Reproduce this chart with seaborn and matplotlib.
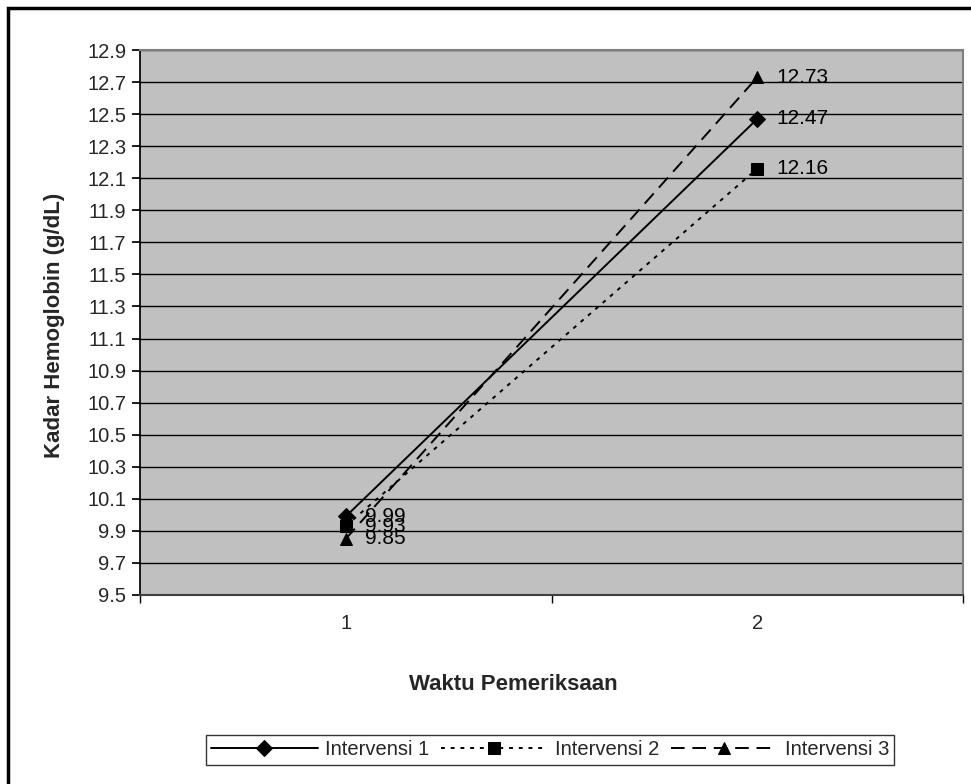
import matplotlib
matplotlib.use("Agg")
import matplotlib.pyplot as plt
import seaborn as sns
import pandas as pd
from matplotlib.patches import Rectangle

sns.set_theme(style="white")
plt.rcParams['font.family'] = ['Liberation Sans', 'DejaVu Sans']

waktu = [1, 2]
series_names = ["Intervensi 1", "Intervensi 2", "Intervensi 3"]
intervensi_1 = [9.99, 12.47]
intervensi_2 = [9.93, 12.16]
intervensi_3 = [9.85, 12.73]
y_ticks = [9.5, 9.7, 9.9, 10.1, 10.3, 10.5, 10.7, 10.9, 11.1, 11.3, 11.5,
           11.7, 11.9, 12.1, 12.3, 12.5, 12.7, 12.9]

rows = []
for name, vals in zip(series_names, [intervensi_1, intervensi_2, intervensi_3]):
    for x, v in zip(waktu, vals):
        rows.append({"Waktu": x, "Hb": v, "Seri": name})
df = pd.DataFrame(rows)

fig = plt.figure(figsize=(9.71, 7.84), dpi=100)
ax = fig.add_axes([0.1442, 0.2411, 0.8476, 0.6951])
ax.set_facecolor("#C0C0C0")

dashes = {"Intervensi 1": "", "Intervensi 2": (2, 3), "Intervensi 3": (7, 4)}
markers = {"Intervensi 1": "D", "Intervensi 2": "s", "Intervensi 3": "^"}
palette = {n: "black" for n in series_names}
sns.lineplot(data=df, x="Waktu", y="Hb", hue="Seri", style="Seri",
             dashes=dashes, markers=markers, palette=palette, ax=ax,
             linewidth=1.4, markersize=8, markeredgecolor="black", legend=True)

for name, vals in zip(series_names, [intervensi_1, intervensi_2, intervensi_3]):
    for x, v in zip(waktu, vals):
        ax.annotate(f"{v:.2f}", (x, v), xytext=(14, 0), textcoords="offset points",
                    va="center", ha="left", fontsize=15, color="black")

ax.set_ylim(9.5, 12.9)
ax.set_yticks(y_ticks)
ax.set_yticklabels([f"{t:.1f}" for t in y_ticks], fontsize=14.5)
ax.set_xlim(0.5, 2.5)
ax.set_xticks([1, 2])
ax.set_xticklabels(["1", "2"], fontsize=14.5)
ax.set_xticks([0.5, 1.5, 2.5], minor=True)
ax.tick_params(axis="x", which="major", length=0, pad=14)
ax.tick_params(axis="x", which="minor", length=6, color="black", direction="out", bottom=True)
ax.tick_params(axis="y", length=6, color="black", direction="out", left=True, pad=4)
ax.yaxis.grid(True, color="black", linewidth=1)
ax.set_axisbelow(True)
for s in ["top", "right"]:
    ax.spines[s].set_color("#808080")
    ax.spines[s].set_linewidth(1.5)
ax.spines["left"].set_color("black")
ax.spines["bottom"].set_color("#404040")
ax.spines["bottom"].set_linewidth(1.5)

ax.set_xlabel("Waktu Pemeriksaan", fontsize=16, fontweight="bold")
ax.xaxis.set_label_coords(0.453, -0.145)
ax.set_ylabel("Kadar Hemoglobin (g/dL)", fontsize=16, fontweight="bold")
ax.yaxis.set_label_coords(-0.091, 0.495)

handles, labels = ax.get_legend_handles_labels()
ax.get_legend().remove()
leg = fig.legend(handles, labels, loc="center", bbox_to_anchor=(0.5664, 0.0434),
                 ncol=3, frameon=True, fancybox=False, edgecolor="black",
                 fontsize=14.5, handlelength=5.3, columnspacing=0.6,
                 handletextpad=0.35, borderpad=0.25, borderaxespad=0)
leg.get_frame().set_linewidth(1)

fig.patches.append(Rectangle((8 / 971, -0.05), 1.2, 1 - 8 / 784 + 0.05,
                             transform=fig.transFigure, fill=False,
                             edgecolor="black", linewidth=2.5))

fig.savefig("out.png", dpi=100)
